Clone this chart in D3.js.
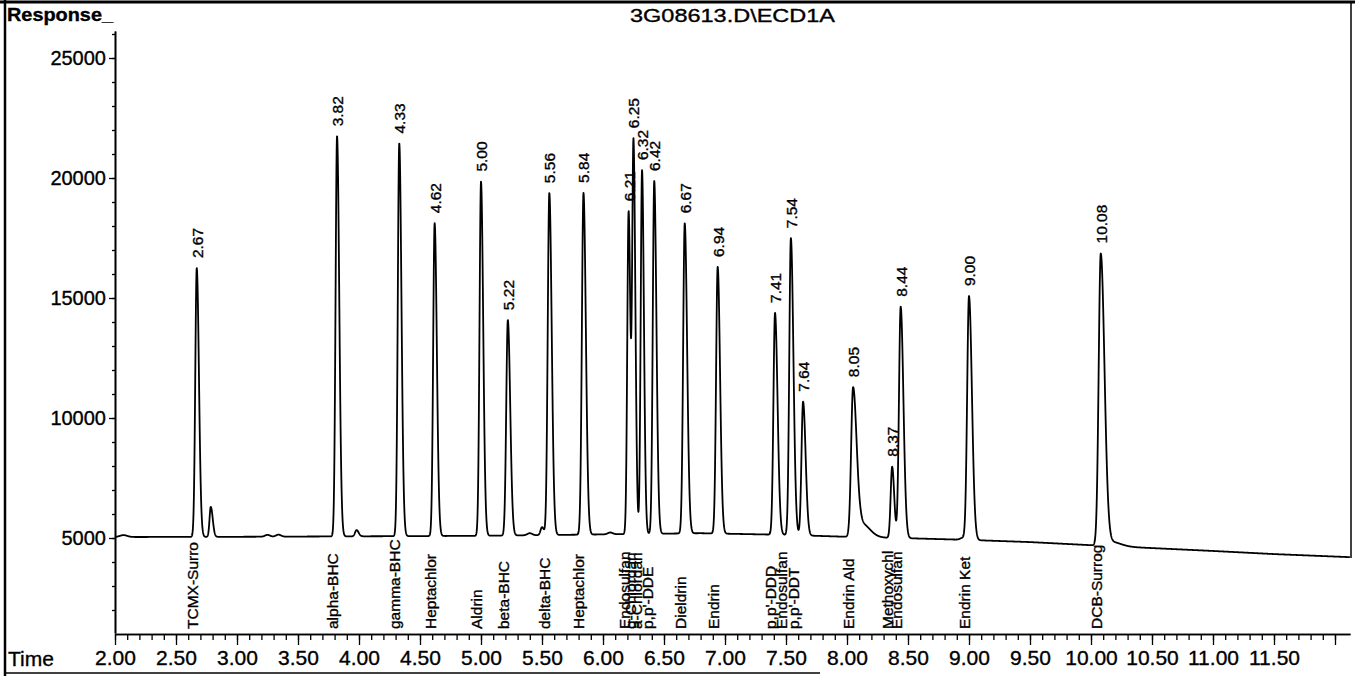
<!DOCTYPE html>
<html>
<head>
<meta charset="utf-8">
<script src="https://cdn.jsdelivr.net/npm/d3@7"></script>
<style>
body{margin:0;background:#fff;}
svg{display:block;}
text{font-family:"Liberation Sans",Arial,Helvetica,sans-serif;fill:#000;stroke:#000;stroke-width:0.35px;}
</style>
</head>
<body>
<script>
// baseline drift (time min -> response)
var baseTimes =[2.0, 3.0, 4.0, 5.0, 6.0, 6.8, 7.5, 8.0, 8.5, 9.0, 9.5, 10.0,10.5,11.0,11.5,12.13];
var baseValues=[5040,5050,5070,5090,5150,5200,5130,5050,4990,4920,4830,4700,4580,4460,4330,4200];

// every peak seen on the trace: retention time, apex response, width (min), tailing
var peakTimes=[2.07, 2.67, 2.785,3.25, 3.34, 3.82, 3.98, 4.33, 4.62, 5.00, 5.22, 5.40, 5.50, 5.56, 5.84, 6.06,
               6.21, 6.25, 6.32, 6.42, 6.67, 6.94, 7.41, 7.54, 7.64, 8.05, 8.12, 8.37, 8.44, 8.95, 9.00, 10.08,10.16];
var peakApex =[5120, 16250,6300, 5130, 5140, 21750,5330, 21450,18120,19850,14080,5200, 5450, 19380,19380,5230,
               18600,21380,20330,19880,18120,16300,14380,17500,10680,11250,5600, 7970, 14640,5010, 15080,16830,4850];
var peakSigma=[0.03, 0.012,0.010,0.02, 0.02, 0.012,0.012,0.012,0.012,0.012,0.013,0.02, 0.012,0.013,0.013,0.02,
               0.011,0.011,0.011,0.012,0.013,0.013,0.013,0.013,0.013,0.016,0.03, 0.012,0.014,0.02, 0.015,0.017,0.04];
var peakTail =[1,    1.5,  1.6,  1,    1,    1.5,  1.4,  1.5,  1.5,  1.5,  1.5,  1,    1.3,  1.5,  1.5,  1,
               1.3,  1.4,  1.4,  1.5,  1.5,  1.5,  1.6,  1.6,  1.6,  1.8,  2.2,  1.4,  1.6,  1,    1.6,  1.8,  2];

// integrated peaks: retention time labels and compound names
var rtLabels=["2.67","3.82","4.33","4.62","5.00","5.22","5.56","5.84","6.21","6.25","6.32","6.42",
              "6.67","6.94","7.41","7.54","7.64","8.05","8.37","8.44","9.00","10.08"];
var compoundNames=["TCMX-Surro","alpha-BHC","gamma-BHC","Heptachlor","Aldrin","beta-BHC","delta-BHC","Heptachlor",
                   "Endosulfan","g-Chlordan","a-Chlordan","p,p'-DDE","Dieldrin","Endrin","p,p'-DDD","Endosulfan",
                   "p,p'-DDT","Endrin Ald","Methoxychl","Endosulfan","Endrin Ket","DCB-Surrog"];
var compoundTimes=[2.67,3.82,4.33,4.62,5.00,5.22,5.56,5.84,6.21,6.26,6.31,6.40,6.67,6.94,7.41,7.50,7.60,8.05,8.37,8.44,9.00,10.08];

var yMajor=[5000,10000,15000,20000,25000];
var xLabels=["2.00","2.50","3.00","3.50","4.00","4.50","5.00","5.50","6.00","6.50","7.00","7.50",
             "8.00","8.50","9.00","9.50","10.00","10.50","11.00","11.50"];

var W=1355,H=676;
var svg=d3.select("body").append("svg").attr("width",W).attr("height",H);

var x=d3.scaleLinear().domain([2,12.123]).range([115,1350]);
var y=d3.scaleLinear().domain([5000,25000]).range([538,58]);
var yAx=y.copy().domain([y.invert(633),y.invert(31)]).range([633,31]);
var baseline=d3.scaleLinear().domain(baseTimes).range(baseValues);

// signal = baseline + peaks
var amps=peakTimes.map(function(t,i){return peakApex[i]-baseline(t);});
function signal(t){
  var v=baseline(t);
  for(var i=0;i<peakTimes.length;i++){
    var d=t-peakTimes[i], s=peakSigma[i]*(d>0?peakTail[i]:1);
    if(Math.abs(d)<s*8) v+=amps[i]*Math.exp(-0.5*d*d/(s*s));
  }
  return v;
}
var trace=d3.range(2,12.123,0.0015).map(function(t){return [t,signal(t)];});

// frame
svg.append("line").attr("x1",0).attr("x2",W).attr("y1",2).attr("y2",2).attr("stroke","#000").attr("stroke-width",3);
svg.append("line").attr("x1",5).attr("x2",5).attr("y1",0).attr("y2",H).attr("stroke","#000").attr("stroke-width",2.5);
svg.append("line").attr("x1",1351).attr("x2",1351).attr("y1",2).attr("y2",558).attr("stroke","#000").attr("stroke-width",1.5);
svg.append("line").attr("x1",5).attr("x2",820).attr("y1",673).attr("y2",673).attr("stroke","#000").attr("stroke-width",1.5);

// y axis: minor every 1000, major every 5000
svg.append("g").attr("transform","translate(115,0)")
  .call(d3.axisLeft(yAx).tickValues(d3.range(2000,26001,1000)).tickSize(3).tickSizeOuter(0).tickFormat(""));
svg.append("g").attr("transform","translate(115,0)")
  .call(d3.axisLeft(yAx).tickValues(yMajor).tickSize(6).tickSizeOuter(0).tickPadding(3).tickFormat(d3.format("d")))
  .selectAll("text").style("font-size","20px");

// x axis: minor every 0.1, major every 0.5
svg.append("g").attr("transform","translate(0,634)")
  .call(d3.axisBottom(x).tickValues(d3.range(20,121,1).map(function(d){return d/10;})).tickSize(6).tickSizeOuter(0).tickFormat(""));
svg.append("g").attr("transform","translate(0,634)")
  .call(d3.axisBottom(x).tickValues(d3.range(4,25,1).map(function(d){return d/2;})).tickSize(11).tickSizeOuter(0).tickPadding(5)
    .tickFormat(function(d){var s=d.toFixed(2);return xLabels.indexOf(s)>=0?s:"";}))
  .selectAll("text").style("font-size","21px");

svg.selectAll(".domain").attr("stroke-width",1.6);
svg.selectAll(".tick line").attr("stroke-width",1.3);

svg.append("text").attr("x",8).attr("y",666).style("font-size","21px").text("Time");
svg.append("text").attr("x",7).attr("y",21).style("font-size","18px").style("font-weight","bold")
  .attr("textLength",106).attr("lengthAdjust","spacingAndGlyphs").text("Response_");
svg.append("text").attr("x",630).attr("y",22).style("font-size","19px")
  .attr("textLength",205).attr("lengthAdjust","spacingAndGlyphs").text("3G08613.D\\ECD1A");

// trace
svg.append("path").datum(trace)
  .attr("d",d3.line().x(function(d){return x(d[0]);}).y(function(d){return y(d[1]);}))
  .attr("fill","none").attr("stroke","#000").attr("stroke-width",1.8).attr("stroke-linejoin","round");

// retention time labels above each apex
svg.append("g").selectAll("text").data(rtLabels).enter().append("text")
  .attr("transform",function(d){
    var t=+d, top=d3.max(trace.filter(function(p){return Math.abs(p[0]-t)<0.01;}),function(p){return p[1];});
    return "translate("+(x(t)+6)+","+(y(top)-10)+") rotate(-90)";})
  .style("font-size","15.5px").text(function(d){return d;});

// compound names along the time axis
svg.append("g").selectAll("text").data(compoundNames).enter().append("text")
  .attr("transform",function(d,i){return "translate("+(x(compoundTimes[i])+1)+",629) rotate(-90)";})
  .style("font-size","15.5px").text(function(d){return d;});
</script>
</body>
</html>
